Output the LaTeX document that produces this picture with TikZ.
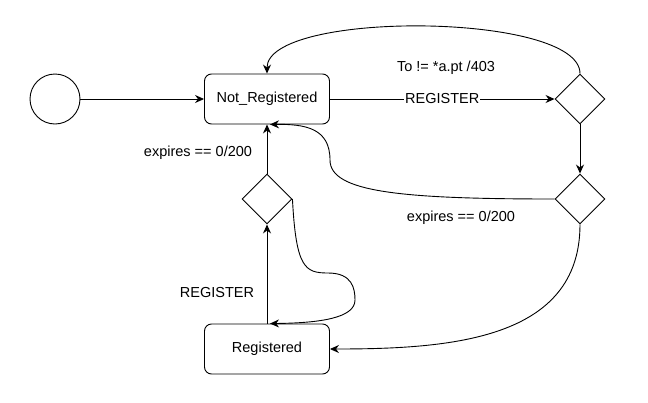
\documentclass[tikz,border=0pt]{standalone}
\usepackage{fontspec}
\setmainfont{Liberation Sans}
\usetikzlibrary{shapes.geometric,arrows.meta}
\tikzset{
  state/.style={draw, rounded corners=7pt, minimum width=125pt, minimum height=50pt, inner sep=0pt},
  choice/.style={draw, diamond, minimum width=50pt, minimum height=50pt, inner sep=0pt},
  start/.style={draw, circle, minimum size=50pt, inner sep=0pt},
  arr/.style={-{Stealth[length=9pt,width=8pt]}},
  lbl/.style={inner sep=1pt}
}
\begin{document}
\begin{tikzpicture}[x=1pt, y=-1pt, line width=0.9pt, font=\fontsize{14.5}{17}\selectfont]
  \useasboundingbox (0,0) rectangle (648,402);

  % states and choices
  \node[start] (init) at (55,99) {};
  \node[state] (notreg) at (267,99) {Not\_Registered};
  \node[state] (reg) at (267,349) {Registered};
  \node[choice] (chkTo) at (580,99) {};
  \node[choice] (chkExp) at (580,199) {};
  \node[choice] (chkReg) at (267,199) {};

  % labels
  \node[lbl] (lblTo) at (446,68) {To != *a.pt /403};
  \node[lbl] (lblExpA) at (461,218) {expires == 0/200};
  \node[lbl] (lblExpB) at (198,153) {expires == 0/200};
  \node[lbl] (lblRegB) at (217,293) {REGISTER};

  % transitions
  \draw[arr] (init) -- (notreg);
  \draw[arr] (notreg) -- node[fill=white, inner sep=1pt] (lblRegA) {REGISTER} (chkTo);
  \draw[arr] (chkTo.north) .. controls (580,12) and (267,10) .. (notreg.north);
  \draw[arr] (chkTo) -- (chkExp);
  \draw[arr] (chkExp.west) .. controls (400,199) and (330,192) .. (330,160)
    .. controls (330,128) and (305,124) .. ([xshift=3pt]notreg.south);
  \draw[arr] (chkExp.south) .. controls (580,340) and (450,349) .. (reg.east);
  \draw[arr] (reg) -- (chkReg);
  \draw[arr] (chkReg) -- (notreg);
  \draw[arr] (chkReg.east) .. controls (296,268) and (305,273) .. (328,273)
    .. controls (352,273) and (355,288) .. (355,300)
    .. controls (355,318) and (320,323) .. ([xshift=3pt]reg.north);
\end{tikzpicture}
\end{document}
